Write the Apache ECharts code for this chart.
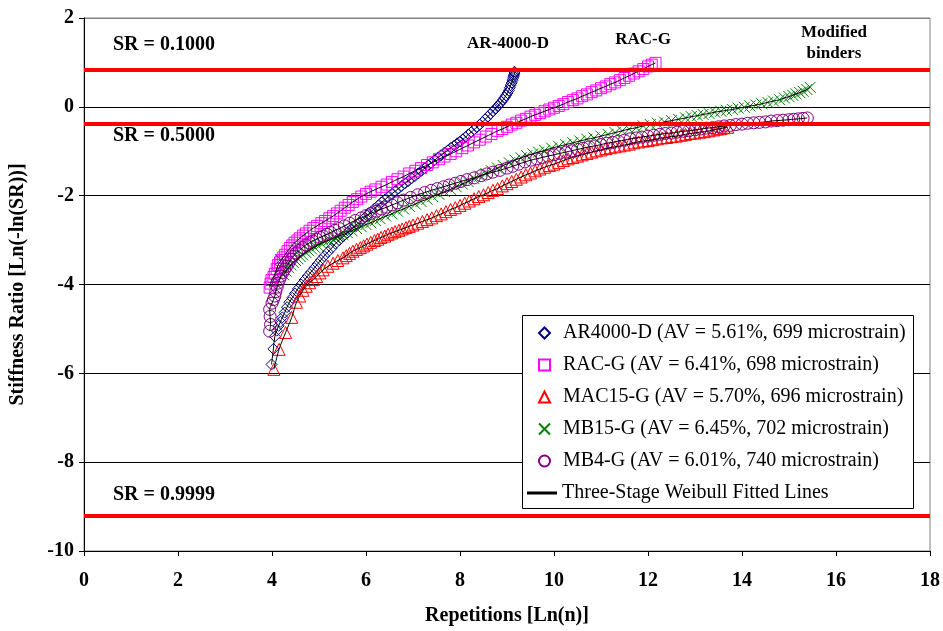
<!DOCTYPE html>
<html>
<head>
<meta charset="utf-8">
<script src="https://cdn.jsdelivr.net/npm/echarts@6/dist/echarts.min.js"></script>
<style>
  html, body { margin: 0; padding: 0; background: #fff; }
  #chart { width: 943px; height: 631px; }
</style>
</head>
<body>
<div id="chart"></div>
<script>
// readings taken off the figure: [Ln(n), Ln(-ln(SR))]
const ar4000d = [
  [3.99, -5.80], [4.03, -5.45], [4.06, -5.17], [4.10, -5.04], [4.14, -4.93], [4.18, -4.84],
  [4.22, -4.74], [4.27, -4.63], [4.32, -4.51], [4.37, -4.40], [4.43, -4.30], [4.49, -4.20],
  [4.55, -4.10], [4.62, -4.00], [4.69, -3.90], [4.76, -3.81], [4.83, -3.72], [4.90, -3.63],
  [4.97, -3.54], [5.04, -3.45], [5.11, -3.36], [5.19, -3.27], [5.27, -3.18], [5.35, -3.08],
  [5.43, -3.00], [5.51, -2.92], [5.60, -2.84], [5.68, -2.76], [5.77, -2.68], [5.86, -2.60],
  [5.94, -2.53], [6.02, -2.45], [6.10, -2.37], [6.18, -2.29], [6.26, -2.22], [6.33, -2.15],
  [6.40, -2.09], [6.47, -2.03], [6.55, -1.96], [6.62, -1.90], [6.69, -1.84], [6.76, -1.78],
  [6.83, -1.72], [6.90, -1.67], [6.97, -1.61], [7.04, -1.56], [7.11, -1.50], [7.18, -1.44],
  [7.25, -1.38], [7.32, -1.32], [7.39, -1.26], [7.46, -1.20], [7.53, -1.14], [7.60, -1.09],
  [7.67, -1.03], [7.74, -0.98], [7.81, -0.92], [7.88, -0.87], [7.94, -0.82], [8.00, -0.78],
  [8.06, -0.73], [8.12, -0.68], [8.18, -0.62], [8.24, -0.57], [8.30, -0.51], [8.36, -0.46],
  [8.42, -0.40], [8.48, -0.34], [8.54, -0.28], [8.59, -0.22], [8.65, -0.16], [8.70, -0.10],
  [8.75, -0.05], [8.80, 0.01], [8.84, 0.06], [8.88, 0.11], [8.92, 0.16], [8.95, 0.21],
  [8.98, 0.26], [9.01, 0.31], [9.04, 0.37], [9.06, 0.43], [9.08, 0.49], [9.10, 0.54],
  [9.12, 0.60], [9.13, 0.65], [9.14, 0.69], [9.15, 0.72], [9.16, 0.76], [9.16, 0.79]
]
const racg = [
  [3.95, -4.07], [3.97, -3.98], [3.99, -3.90], [4.03, -3.83], [4.06, -3.76], [4.10, -3.65],
  [4.13, -3.56], [4.17, -3.50], [4.20, -3.45], [4.24, -3.39], [4.28, -3.33], [4.33, -3.25],
  [4.38, -3.18], [4.43, -3.12], [4.48, -3.06], [4.54, -3.01], [4.59, -2.96], [4.66, -2.90],
  [4.72, -2.85], [4.80, -2.79], [4.88, -2.73], [4.96, -2.68], [5.05, -2.62], [5.13, -2.57],
  [5.22, -2.51], [5.30, -2.46], [5.38, -2.40], [5.46, -2.34], [5.55, -2.27], [5.63, -2.21],
  [5.72, -2.14], [5.81, -2.08], [5.90, -2.02], [6.00, -1.96], [6.10, -1.91], [6.20, -1.86],
  [6.33, -1.80], [6.44, -1.75], [6.55, -1.69], [6.67, -1.63], [6.80, -1.57], [6.92, -1.50],
  [7.05, -1.44], [7.17, -1.38], [7.30, -1.31], [7.42, -1.25], [7.55, -1.18], [7.67, -1.12],
  [7.80, -1.06], [7.92, -1.00], [8.05, -0.93], [8.17, -0.87], [8.30, -0.80], [8.42, -0.74],
  [8.55, -0.67], [8.67, -0.61], [8.80, -0.54], [8.90, -0.50], [9.00, -0.45], [9.10, -0.40],
  [9.20, -0.36], [9.30, -0.31], [9.40, -0.27], [9.50, -0.22], [9.60, -0.18], [9.70, -0.14],
  [9.80, -0.10], [9.90, -0.06], [10.00, -0.02], [10.10, 0.02], [10.20, 0.06], [10.30, 0.11],
  [10.40, 0.15], [10.50, 0.19], [10.60, 0.24], [10.70, 0.28], [10.80, 0.33], [10.90, 0.37],
  [11.00, 0.42], [11.10, 0.46], [11.20, 0.51], [11.30, 0.55], [11.40, 0.60], [11.50, 0.65],
  [11.60, 0.70], [11.70, 0.75], [11.80, 0.80], [11.90, 0.85], [12.00, 0.91], [12.08, 0.95],
  [12.16, 0.99]
]
const mac15g = [
  [4.04, -5.91], [4.15, -5.46], [4.29, -5.08], [4.42, -4.74], [4.52, -4.40], [4.59, -4.26],
  [4.66, -4.13], [4.73, -4.04], [4.80, -3.96], [4.88, -3.89], [4.95, -3.82], [5.02, -3.74],
  [5.09, -3.67], [5.19, -3.59], [5.30, -3.52], [5.40, -3.46], [5.51, -3.40], [5.58, -3.35],
  [5.65, -3.30], [5.72, -3.25], [5.80, -3.21], [5.88, -3.17], [5.95, -3.13], [6.02, -3.09],
  [6.10, -3.05], [6.18, -3.01], [6.25, -2.98], [6.32, -2.94], [6.40, -2.91], [6.47, -2.87],
  [6.55, -2.84], [6.62, -2.81], [6.70, -2.78], [6.77, -2.75], [6.85, -2.72], [6.92, -2.69],
  [7.00, -2.66], [7.10, -2.62], [7.20, -2.58], [7.30, -2.54], [7.40, -2.50], [7.50, -2.45],
  [7.60, -2.41], [7.70, -2.36], [7.80, -2.31], [7.90, -2.27], [8.00, -2.22], [8.10, -2.17],
  [8.20, -2.12], [8.30, -2.07], [8.40, -2.02], [8.50, -1.98], [8.60, -1.93], [8.70, -1.88],
  [8.80, -1.84], [8.90, -1.78], [9.00, -1.73], [9.10, -1.68], [9.20, -1.63], [9.30, -1.58],
  [9.40, -1.53], [9.50, -1.49], [9.60, -1.44], [9.70, -1.40], [9.80, -1.36], [9.90, -1.32],
  [10.00, -1.29], [10.10, -1.25], [10.20, -1.21], [10.30, -1.17], [10.40, -1.14], [10.50, -1.11],
  [10.60, -1.08], [10.70, -1.05], [10.80, -1.02], [10.90, -0.99], [11.00, -0.97], [11.10, -0.94],
  [11.20, -0.92], [11.30, -0.90], [11.40, -0.88], [11.50, -0.86], [11.60, -0.84], [11.70, -0.81],
  [11.80, -0.79], [11.90, -0.77], [12.00, -0.76], [12.10, -0.74], [12.20, -0.72], [12.30, -0.70],
  [12.40, -0.69], [12.50, -0.67], [12.60, -0.66], [12.70, -0.64], [12.80, -0.62], [12.90, -0.60],
  [13.00, -0.59], [13.10, -0.57], [13.20, -0.56], [13.30, -0.54], [13.40, -0.52], [13.48, -0.50],
  [13.55, -0.49], [13.62, -0.47], [13.70, -0.46]
]
const mb15g = [
  [4.18, -3.44], [4.25, -3.78], [4.30, -3.70], [4.35, -3.62], [4.40, -3.56], [4.45, -3.50],
  [4.50, -3.46], [4.55, -3.42], [4.60, -3.37], [4.65, -3.33], [4.72, -3.28], [4.78, -3.24],
  [4.84, -3.20], [4.90, -3.16], [4.97, -3.12], [5.05, -3.08], [5.12, -3.04], [5.20, -3.01],
  [5.28, -2.97], [5.35, -2.94], [5.42, -2.91], [5.50, -2.88], [5.60, -2.83], [5.70, -2.79],
  [5.80, -2.74], [5.90, -2.70], [6.00, -2.65], [6.10, -2.61], [6.20, -2.56], [6.30, -2.52],
  [6.42, -2.46], [6.55, -2.41], [6.67, -2.35], [6.80, -2.30], [6.92, -2.24], [7.05, -2.19],
  [7.17, -2.13], [7.30, -2.08], [7.42, -2.02], [7.55, -1.97], [7.67, -1.91], [7.80, -1.86],
  [7.92, -1.80], [8.05, -1.74], [8.17, -1.68], [8.30, -1.62], [8.42, -1.56], [8.55, -1.50],
  [8.67, -1.44], [8.80, -1.38], [8.92, -1.32], [9.05, -1.26], [9.17, -1.20], [9.30, -1.15],
  [9.42, -1.10], [9.55, -1.06], [9.67, -1.02], [9.80, -0.98], [9.95, -0.93], [10.10, -0.89],
  [10.25, -0.85], [10.40, -0.81], [10.55, -0.77], [10.70, -0.73], [10.85, -0.70], [11.00, -0.66],
  [11.15, -0.62], [11.30, -0.58], [11.45, -0.54], [11.60, -0.50], [11.75, -0.47], [11.90, -0.43],
  [12.05, -0.40], [12.20, -0.37], [12.35, -0.34], [12.50, -0.31], [12.65, -0.28], [12.80, -0.25],
  [12.92, -0.22], [13.05, -0.20], [13.17, -0.17], [13.30, -0.15], [13.42, -0.12], [13.55, -0.10],
  [13.67, -0.08], [13.80, -0.06], [13.92, -0.03], [14.05, -0.01], [14.17, 0.02], [14.30, 0.04],
  [14.42, 0.07], [14.55, 0.10], [14.67, 0.13], [14.80, 0.16], [14.90, 0.20], [15.00, 0.23],
  [15.08, 0.26], [15.15, 0.29], [15.23, 0.32], [15.30, 0.35], [15.38, 0.39], [15.45, 0.44]
]
const mb4g = [
  [3.95, -5.05], [3.97, -4.90], [3.96, -4.72], [3.95, -4.56], [4.00, -4.42], [4.03, -4.34],
  [4.06, -4.26], [4.08, -4.16], [4.11, -4.06], [4.13, -3.97], [4.16, -3.89], [4.19, -3.81],
  [4.23, -3.73], [4.27, -3.66], [4.31, -3.59], [4.36, -3.51], [4.41, -3.43], [4.46, -3.36],
  [4.52, -3.29], [4.58, -3.23], [4.65, -3.17], [4.72, -3.11], [4.80, -3.06], [4.87, -3.02],
  [4.95, -2.98], [5.02, -2.94], [5.09, -2.91], [5.17, -2.87], [5.25, -2.83], [5.34, -2.78],
  [5.43, -2.74], [5.54, -2.68], [5.65, -2.62], [5.77, -2.56], [5.90, -2.50], [6.00, -2.45],
  [6.10, -2.40], [6.22, -2.35], [6.33, -2.30], [6.44, -2.26], [6.55, -2.21], [6.67, -2.16],
  [6.80, -2.10], [6.95, -2.04], [7.10, -1.98], [7.25, -1.93], [7.39, -1.88], [7.52, -1.84],
  [7.65, -1.80], [7.77, -1.76], [7.90, -1.72], [8.02, -1.68], [8.15, -1.64], [8.30, -1.60],
  [8.45, -1.55], [8.57, -1.51], [8.70, -1.47], [8.85, -1.43], [9.00, -1.38], [9.12, -1.34],
  [9.25, -1.29], [9.38, -1.24], [9.51, -1.20], [9.63, -1.17], [9.75, -1.14], [9.87, -1.11],
  [10.00, -1.08], [10.12, -1.05], [10.25, -1.02], [10.37, -0.99], [10.50, -0.96], [10.62, -0.93],
  [10.75, -0.90], [10.87, -0.88], [11.00, -0.85], [11.12, -0.82], [11.25, -0.80], [11.37, -0.77],
  [11.50, -0.75], [11.62, -0.72], [11.75, -0.70], [11.87, -0.68], [12.00, -0.66], [12.12, -0.64],
  [12.25, -0.62], [12.37, -0.60], [12.50, -0.59], [12.62, -0.57], [12.75, -0.55], [12.87, -0.54],
  [13.00, -0.52], [13.12, -0.50], [13.25, -0.48], [13.37, -0.47], [13.50, -0.45], [13.62, -0.43],
  [13.75, -0.42], [13.87, -0.40], [14.00, -0.39], [14.12, -0.37], [14.25, -0.36], [14.37, -0.35],
  [14.50, -0.34], [14.62, -0.32], [14.75, -0.31], [14.87, -0.30], [15.00, -0.29], [15.10, -0.28],
  [15.20, -0.27], [15.30, -0.26], [15.39, -0.25]
]
// stiffness ratio levels drawn as red reference lines
const srLevels = [0.1, 0.5, 0.9999]
const srLabels = ['SR = 0.1000', 'SR = 0.5000', 'SR = 0.9999']

const serif = 'Liberation Serif'
const fitName = 'Three-Stage Weibull Fitted Lines'

const groups = [
  { name: 'AR4000-D (AV = 5.61%, 699 microstrain)', data: ar4000d, symbol: 'diamond', color: '#000080', size: 11 },
  { name: 'RAC-G (AV = 6.41%, 698 microstrain)', data: racg, symbol: 'rect', color: '#ff00ff', size: 11 },
  { name: 'MAC15-G (AV = 5.70%, 696 microstrain)', data: mac15g, symbol: 'triangle', color: '#ff0000', size: 12 },
  { name: 'MB15-G (AV = 6.45%, 702 microstrain)', data: mb15g, symbol: 'path://M0,0L10,10M10,0L0,10', color: '#008000', size: 11 },
  { name: 'MB4-G (AV = 6.01%, 740 microstrain)', data: mb4g, symbol: 'circle', color: '#800080', size: 12 }
]

const series = []
// red SR lines under everything
series.push({
  type: 'line',
  data: [],
  z: 1,
  silent: true,
  markLine: {
    silent: true,
    symbol: 'none',
    label: { show: false },
    lineStyle: { color: '#ff0000', width: 4, type: 'solid' },
    data: srLevels.map(v => ({ yAxis: Math.log(-Math.log(v)) }))
  }
})
groups.forEach(g => {
  series.push({
    name: g.name,
    type: 'scatter',
    data: g.data,
    symbol: g.symbol,
    symbolSize: g.size,
    itemStyle: { color: 'rgba(0,0,0,0)', borderColor: g.color, borderWidth: 1, opacity: 1 },
    z: 2
  })
})
groups.forEach((g, i) => {
  series.push({
    name: fitName,
    type: 'line',
    // first MB15-G point is a stray one the fit does not pass through
    data: i === 3 ? g.data.slice(1) : g.data,
    symbol: 'none',
    smooth: 0.3,
    lineStyle: { color: '#000', width: 1 },
    itemStyle: { color: '#000' },
    z: 3
  })
})

const labelTexts = []
srLabels.forEach((t, i) => {
  labelTexts.push({
    type: 'text',
    left: 113,
    top: [35, 126, 485][i],
    z: 20,
    style: { text: t, font: 'bold 20px "Liberation Serif"', fill: '#000' }
  })
})
const binderNotes = [
  { text: 'AR-4000-D', x: 508, y: 44 },
  { text: 'RAC-G', x: 643, y: 40 },
  { text: 'Modified\nbinders', x: 834, y: 43 }
]
binderNotes.forEach(n => {
  labelTexts.push({
    type: 'text',
    x: n.x,
    y: n.y,
    z: 20,
    style: {
      text: n.text,
      font: 'bold 17px "Liberation Serif"',
      fill: '#000',
      align: 'center',
      verticalAlign: 'middle',
      lineHeight: 21
    }
  })
})
// legend frame
labelTexts.push({
  type: 'rect',
  shape: { x: 522.5, y: 315.5, width: 391, height: 193 },
  z: 10,
  style: { fill: '#fff', stroke: '#000', lineWidth: 1 }
})

const option = {
  animation: false,
  backgroundColor: '#fff',
  grid: {
    left: 82, right: 13, top: 18, bottom: 79,
    show: true, borderColor: '#808080', borderWidth: 1, backgroundColor: '#fff'
  },
  xAxis: {
    type: 'value',
    min: 0,
    max: 18,
    interval: 2,
    name: 'Repetitions [Ln(n)]',
    nameLocation: 'middle',
    nameGap: 55,
    nameTextStyle: { fontFamily: serif, fontWeight: 'bold', fontSize: 20, color: '#000' },
    axisLine: { show: true, onZero: false, lineStyle: { color: '#000', width: 1 } },
    axisTick: { show: true, length: 5, lineStyle: { color: '#000' } },
    axisLabel: { fontFamily: serif, fontWeight: 'bold', fontSize: 20, color: '#000', margin: 20 },
    splitLine: { show: false }
  },
  yAxis: {
    type: 'value',
    min: -10,
    max: 2,
    interval: 2,
    name: 'Stiffness Ratio [Ln(-ln(SR))]',
    nameLocation: 'middle',
    nameGap: 56,
    nameRotate: 90,
    nameTextStyle: { fontFamily: serif, fontWeight: 'bold', fontSize: 20, color: '#000' },
    axisLine: { show: true, onZero: false, lineStyle: { color: '#000', width: 1 } },
    axisTick: { show: true, length: 5, lineStyle: { color: '#000' } },
    axisLabel: { fontFamily: serif, fontWeight: 'bold', fontSize: 20, color: '#000', margin: 10 },
    splitLine: {
      show: true,
      lineStyle: { color: ['#000', '#000', '#000', '#000', '#000', '#000', '#808080'], width: 1 }
    }
  },
  legend: [
    {
      orient: 'vertical',
      left: 538,
      top: 323,
      padding: 0,
      itemWidth: 11,
      itemHeight: 11,
      itemGap: 12,
      z: 11,
      selectedMode: false,
      data: groups.map(g => g.name),
      textStyle: { fontFamily: serif, fontSize: 20, color: '#000', lineHeight: 20, padding: [0, 0, 0, 8] }
    },
    {
      orient: 'vertical',
      left: 527,
      top: 483,
      padding: 0,
      itemWidth: 30,
      itemHeight: 3,
      z: 11,
      selectedMode: false,
      data: [{ name: fitName, icon: 'rect', itemStyle: { color: '#000', borderWidth: 0 } }],
      textStyle: { fontFamily: serif, fontSize: 20, color: '#000', lineHeight: 20 }
    }
  ],
  graphic: labelTexts,
  series: series
}

const myChart = echarts.init(document.getElementById('chart'))
myChart.setOption(option)
</script>
</body>
</html>
